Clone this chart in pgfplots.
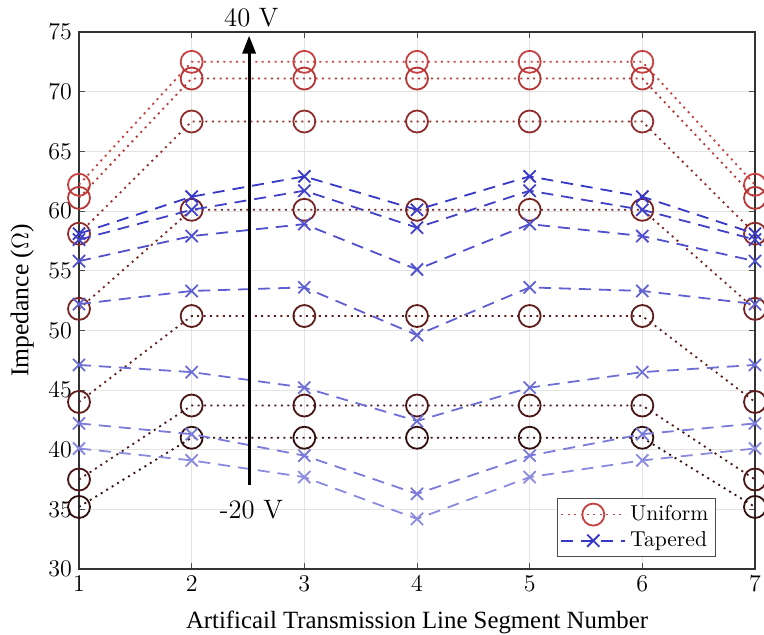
\documentclass[border=0pt]{standalone}
\usepackage{pgfplots}
\pgfplotsset{compat=1.18}
\usepackage{fontspec}
\newfontfamily\timesfont{Liberation Serif}
\usetikzlibrary{arrows.meta}
\definecolor{U1}{RGB}{200,64,64}
\definecolor{U2}{RGB}{182,54,54}
\definecolor{U3}{RGB}{145,44,44}
\definecolor{U4}{RGB}{120,35,35}
\definecolor{U5}{RGB}{95,28,28}
\definecolor{U6}{RGB}{75,22,22}
\definecolor{U7}{RGB}{50,15,15}
\definecolor{T1}{RGB}{55,55,200}
\definecolor{T2}{RGB}{65,65,200}
\definecolor{T3}{RGB}{80,80,205}
\definecolor{T4}{RGB}{95,95,210}
\definecolor{T5}{RGB}{110,110,215}
\definecolor{T6}{RGB}{122,122,218}
\definecolor{T7}{RGB}{138,138,222}
\begin{document}
\begin{tikzpicture}
\path[use as bounding box] (-39.5pt,-32.5pt) rectangle (342.5pt,284.5pt);
\begin{axis}[
  scale only axis,
  width=338pt, height=268.5pt,
  xmin=1, xmax=7, ymin=30, ymax=75,
  xtick={1,2,3,4,5,6,7},
  ytick={30,35,40,45,50,55,60,65,70,75},
  ticklabel style={font=\fontsize{12.5}{14}\selectfont},
  xlabel={\timesfont Artificail Transmission Line Segment Number},
  ylabel={\timesfont Impedance ($\Omega$)},
  xlabel style={font=\fontsize{12.4}{14}\selectfont, at={(axis description cs:0.5,-0.1)},anchor=center},
  ylabel style={font=\fontsize{12.8}{14}\selectfont, at={(axis description cs:-0.084,0.5)},anchor=center},
  grid=major,
  major grid style={draw=black!11, line width=0.5pt},
  tick align=inside,
  major tick length=3pt,
  tick style={black!70, line width=0.5pt},
  axis line style={black!80, line width=0.6pt},
  clip mode=individual,
  legend style={at={(axis description cs:0.942,0.022)}, anchor=south east,
    font=\fontsize{10.8}{12.5}\selectfont, draw=black!70, line width=0.5pt,
    inner sep=1.5pt, row sep=0pt},
  legend cell align=left,
  legend image code/.code={\draw[mark repeat=2,mark phase=2] plot coordinates {(0pt,0pt) (16pt,0pt) (32pt,0pt)};},
  every axis plot/.append style={line width=0.9pt},
]
% Uniform
\addplot[U1, dash pattern=on 1pt off 2.2pt, mark=o, mark size=5.5pt, mark options={solid}] coordinates {(1,62.2)(2,72.5)(3,72.5)(4,72.5)(5,72.5)(6,72.5)(7,62.2)};
\addlegendentry{Uniform}
\addplot[forget plot, U2, dash pattern=on 1pt off 2.2pt, mark=o, mark size=5.5pt, mark options={solid}] coordinates {(1,61.1)(2,71.1)(3,71.1)(4,71.1)(5,71.1)(6,71.1)(7,61.1)};
\addplot[forget plot, U3, dash pattern=on 1pt off 2.2pt, mark=o, mark size=5.5pt, mark options={solid}] coordinates {(1,58.1)(2,67.5)(3,67.5)(4,67.5)(5,67.5)(6,67.5)(7,58.1)};
\addplot[forget plot, U4, dash pattern=on 1pt off 2.2pt, mark=o, mark size=5.5pt, mark options={solid}] coordinates {(1,51.8)(2,60.1)(3,60.1)(4,60.1)(5,60.1)(6,60.1)(7,51.8)};
\addplot[forget plot, U5, dash pattern=on 1pt off 2.2pt, mark=o, mark size=5.5pt, mark options={solid}] coordinates {(1,44.0)(2,51.2)(3,51.2)(4,51.2)(5,51.2)(6,51.2)(7,44.0)};
\addplot[forget plot, U6, dash pattern=on 1pt off 2.2pt, mark=o, mark size=5.5pt, mark options={solid}] coordinates {(1,37.5)(2,43.7)(3,43.7)(4,43.7)(5,43.7)(6,43.7)(7,37.5)};
\addplot[forget plot, U7, dash pattern=on 1pt off 2.2pt, mark=o, mark size=5.5pt, mark options={solid}] coordinates {(1,35.2)(2,41.0)(3,41.0)(4,41.0)(5,41.0)(6,41.0)(7,35.2)};
% Tapered
\addplot[T1, dash pattern=on 6pt off 4pt, mark=x, mark size=4.3pt, mark options={solid}] coordinates {(1,58.1)(2,61.2)(3,62.9)(4,60.1)(5,62.9)(6,61.2)(7,58.1)};
\addlegendentry{Tapered}
\addplot[forget plot, T2, dash pattern=on 6pt off 4pt, mark=x, mark size=4.3pt, mark options={solid}] coordinates {(1,57.6)(2,60.1)(3,61.7)(4,58.6)(5,61.7)(6,60.1)(7,57.6)};
\addplot[forget plot, T3, dash pattern=on 6pt off 4pt, mark=x, mark size=4.3pt, mark options={solid}] coordinates {(1,55.8)(2,57.9)(3,58.9)(4,55.1)(5,58.9)(6,57.9)(7,55.8)};
\addplot[forget plot, T4, dash pattern=on 6pt off 4pt, mark=x, mark size=4.3pt, mark options={solid}] coordinates {(1,52.2)(2,53.3)(3,53.6)(4,49.6)(5,53.6)(6,53.3)(7,52.2)};
\addplot[forget plot, T5, dash pattern=on 6pt off 4pt, mark=x, mark size=4.3pt, mark options={solid}] coordinates {(1,47.1)(2,46.5)(3,45.2)(4,42.4)(5,45.2)(6,46.5)(7,47.1)};
\addplot[forget plot, T6, dash pattern=on 6pt off 4pt, mark=x, mark size=4.3pt, mark options={solid}] coordinates {(1,42.2)(2,41.3)(3,39.5)(4,36.3)(5,39.5)(6,41.3)(7,42.2)};
\addplot[forget plot, T7, dash pattern=on 6pt off 4pt, mark=x, mark size=4.3pt, mark options={solid}] coordinates {(1,40.1)(2,39.1)(3,37.7)(4,34.2)(5,37.7)(6,39.1)(7,40.1)};
% Arrow and labels
\draw[black, line width=1.6pt, -{Triangle[length=9pt,width=6.5pt]}] (axis cs:2.51,37.0) -- (axis cs:2.51,74.7);
\node[anchor=base, font=\fontsize{13.3}{15}\selectfont, inner sep=0pt] at ([yshift=3pt]axis cs:2.53,75) {40 V};
\node[anchor=center, font=\fontsize{13.3}{15}\selectfont, inner sep=0pt] at (axis cs:2.53,34.95) {-20 V};
\end{axis}
\end{tikzpicture}
\end{document}
